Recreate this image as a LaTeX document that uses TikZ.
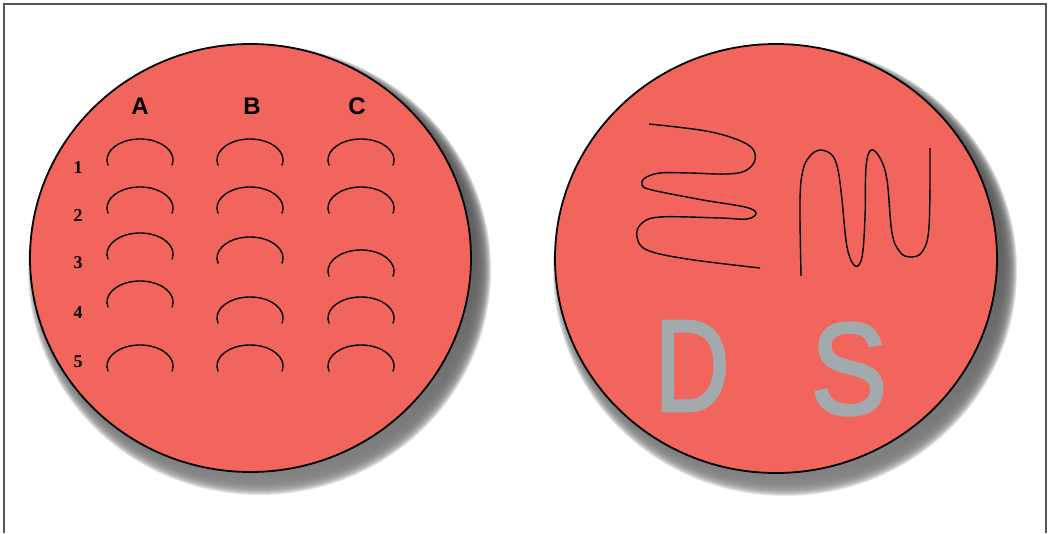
\documentclass[tikz,border=0pt]{standalone}
\usepackage{fontspec}
\newfontfamily\helv{Liberation Sans}
\newfontfamily\timesf{Liberation Serif}
\newfontfamily\chalkf[FakeBold=2.5]{Liberation Sans}
\definecolor{plate}{HTML}{F2655D}
\definecolor{shade}{HTML}{333333}
\definecolor{chalk}{HTML}{A3AAAD}
\definecolor{frame}{HTML}{555555}
\tikzset{
  colhead/.style={inner sep=0pt, font=\helv\bfseries\fontsize{24}{24}\selectfont},
  rowhead/.style={inner sep=0pt, font=\timesf\bfseries\fontsize{18}{18}\selectfont},
  bigletter/.style={inner sep=0pt, text=chalk, font=\chalkf\fontsize{130}{130}\selectfont},
  streak/.style={line width=1.4pt, black},
  dish/.style={fill=plate, draw=black, line width=1.8pt},
}
\newcommand{\wellarc}[2]{%
  \draw[streak] ([shift={(#1,#2+21)}]165:33 and 21) arc[start angle=165, end angle=375, x radius=33, y radius=21];}
\newcommand{\dishshadow}[4]{%
  \foreach \d in {-6,-5,...,11} {%
    \pgfmathsetmacro{\rxx}{#3+\d}\pgfmathsetmacro{\ryy}{#4+\d}%
    \fill[shade, fill opacity=0.1] (#1,#2) ellipse [x radius=\rxx, y radius=\ryy];}}
\begin{document}
\begin{tikzpicture}[x=1pt,y=-1pt]
\useasboundingbox (0,0) rectangle (1049,533);
\fill[white] (0,0) rectangle (1049,533);
\draw[frame, line width=1.3pt] (4,533) -- (4,4) -- (1046,4) -- (1046,533);

% left dish
\dishshadow{259.5}{270}{220.5}{214}
\draw[dish] (250.5,258) ellipse [x radius=220.5, y radius=214];
% right dish
\dishshadow{785}{270.5}{221}{214.5}
\draw[dish] (776,258.5) ellipse [x radius=221, y radius=214.5];

% column heads
\node[colhead] (ca) at (140,106) {A};
\node[colhead] (cb) at (252,106) {B};
\node[colhead] (cc) at (357,106) {C};
% row heads
\node[rowhead] (r1) at (78,168) {1};
\node[rowhead] (r2) at (78,216) {2};
\node[rowhead] (r3) at (78,263) {3};
\node[rowhead] (r4) at (78,313) {4};
\node[rowhead] (r5) at (78,362) {5};

% wells: column A
\wellarc{140}{139}
\wellarc{140}{187}
\wellarc{140}{233}
\wellarc{140}{281}
\wellarc{140}{345}
% column B
\wellarc{250}{139}
\wellarc{250}{187}
\wellarc{250}{237}
\wellarc{250}{297}
\wellarc{250}{345}
% column C
\wellarc{361}{139}
\wellarc{361}{187}
\wellarc{361}{250}
\wellarc{361}{297}
\wellarc{361}{345}

% horizontal serpentine streak
\draw[streak] plot[smooth, tension=0.6] coordinates {
  (649,124) (700,130) (730,137) (751,147) (755,160) (745,171) (725,174)
  (690,173) (660,173) (645,178) (642,185) (652,190) (703,200) (745,207)
  (756,213) (747,219) (720,218) (660,217) (641,224) (637,237) (647,250)
  (687,259) (760,268)};
% vertical serpentine streak
\draw[streak] plot[smooth, tension=0.6] coordinates {
  (801,276) (800,200) (803,170) (810,156) (820,150) (832,155) (838,170)
  (842,200) (847,247) (855,266) (862,257) (865,217) (866,167) (871,150)
  (880,158) (887,180) (892,233) (900,252) (910,257) (922,252) (929,227)
  (930,148)};

% letters
\node[bigletter, xscale=0.8] (dl) at (692,366) {D};
\node[bigletter, xscale=0.88] (sl) at (849,369) {S};
\end{tikzpicture}
\end{document}
